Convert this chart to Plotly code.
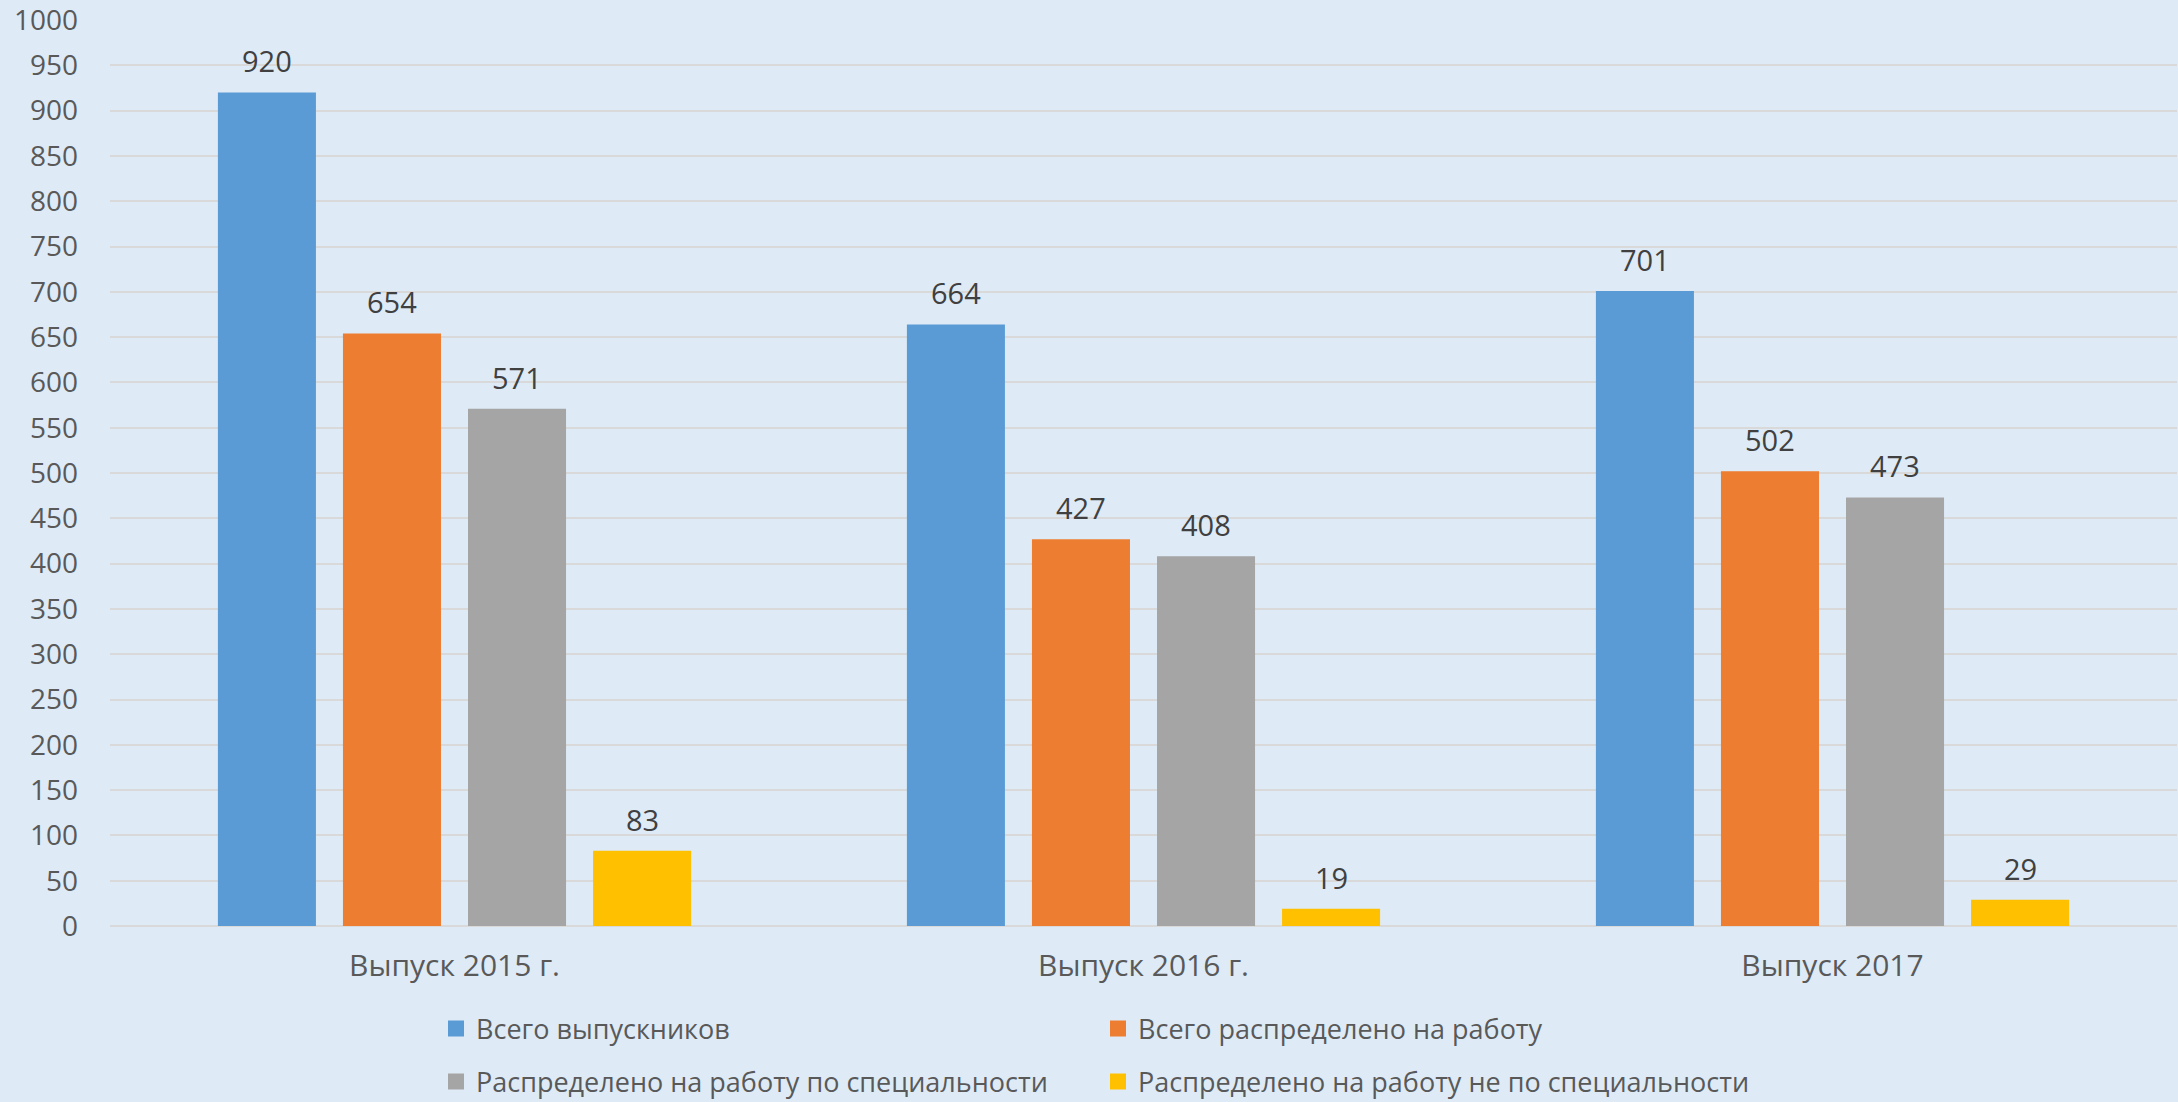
import plotly.graph_objects as go

categories = ["Выпуск 2015 г.", "Выпуск 2016 г.", "Выпуск 2017"]
series_names = [
    "Всего выпускников",
    "Всего распределено на работу",
    "Распределено на работу по специальности",
    "Распределено на работу не по специальности",
]
total = [920, 664, 701]
employed = [654, 427, 502]
by_specialty = [571, 408, 473]
not_specialty = [83, 19, 29]
series_values = [total, employed, by_specialty, not_specialty]
colors = ["#5B9BD5", "#ED7D31", "#A5A5A5", "#FFC000"]
y_ticks = list(range(0, 1001, 50))

FONT = "Open Sans"
W, H = 2178, 1102
ML, MR, MT, MB = 110, 1, 20, 176
plot_w = W - ML - MR
bargap = 0.274
slot = plot_w / len(categories) * (1 - bargap) / len(series_names)

fig = go.Figure()
legends = ["legend", "legend", "legend2", "legend2"]
for i, (name, vals) in enumerate(zip(series_names, series_values)):
    fig.add_trace(go.Bar(
        name=name, x=categories, y=vals, marker_color=colors[i],
        marker_line_width=0, showlegend=False,
    ))
    for c, v in zip(categories, vals):
        fig.add_annotation(
            x=c, y=v, text=str(v), showarrow=False, xref="x", yref="y",
            xshift=(i - 1.5) * slot, yanchor="bottom", yshift=10,
            font=dict(family=FONT, size=29, color="#404040"),
        )
# legend entries with larger square swatches
for i, name in enumerate(series_names):
    fig.add_trace(go.Scatter(
        name=name, x=[None], y=[None], mode="markers",
        marker=dict(symbol="square", size=16, color=colors[i]),
        legend=legends[i], showlegend=True, hoverinfo="skip",
    ))

plot_h = H - MT - MB
def ypap(py):
    return (H - MB - py) / plot_h
def xpap(px):
    return (px - ML) / plot_w

legend_common = dict(
    orientation="h", entrywidth=617, entrywidthmode="pixels",
    xanchor="left", yanchor="middle", bgcolor="rgba(0,0,0,0)",
    font=dict(family=FONT, size=27, color="#595959"),
    traceorder="normal", itemsizing="trace",
)
fig.update_layout(
    width=W, height=H,
    margin=dict(l=ML, r=MR, t=MT, b=MB, autoexpand=False),
    paper_bgcolor="#DEEBF7", plot_bgcolor="#DEEBF7",
    barmode="group", bargap=bargap, bargroupgap=0.216,
    showlegend=True,
    legend=dict(x=xpap(436), y=ypap(1029), **legend_common),
    legend2=dict(x=xpap(436), y=ypap(1082), **legend_common),
    font=dict(family=FONT, color="#595959"),
    xaxis=dict(
        showgrid=False, showline=False, ticks="", automargin=False,
        tickfont=dict(family=FONT, size=30, color="#595959"),
        ticklabelstandoff=19,
    ),
    yaxis=dict(
        range=[0, 1000], tickvals=y_ticks, ticktext=[str(t) for t in y_ticks],
        showgrid=True, gridcolor="#D9D9D9", gridwidth=2,
        zeroline=True, zerolinecolor="#D9D9D9", zerolinewidth=2,
        showline=False, ticks="", automargin=False,
        ticklabeloverflow="allow",
        tickfont=dict(family=FONT, size=28, color="#595959"),
        ticklabelstandoff=31,
    ),
)

fig.write_html(
    "out.html",
    config={"displayModeBar": False},
    post_script="document.body.style.margin='0';document.body.style.overflow='hidden';",
)
